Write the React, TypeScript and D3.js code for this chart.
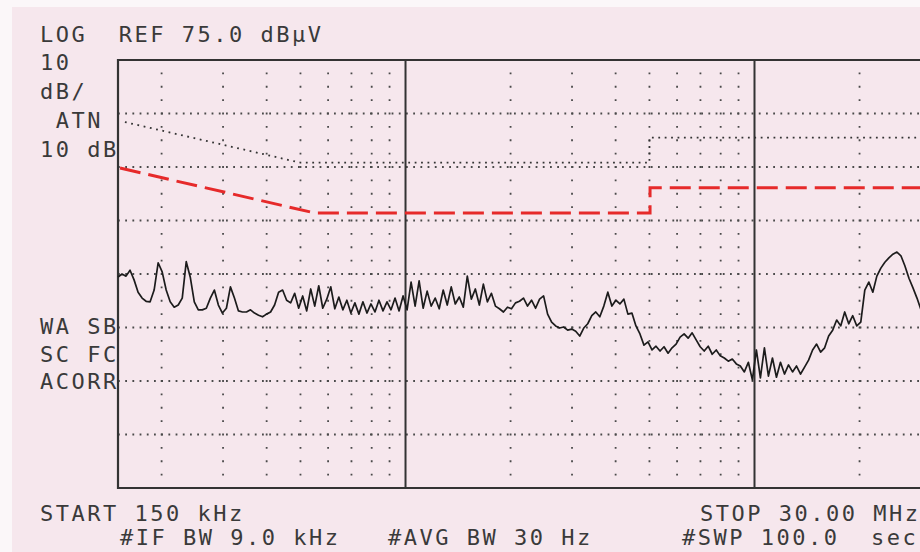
import React from 'react'
import * as d3 from 'd3'

const W = 920
const H = 552

// analyzer settings
const START_MHZ = 0.15
const STOP_MHZ = 30
const REF_DBUV = 75
const DB_PER_DIV = 10
const DIVS = 8

// measured trace in dBuV, one value per sweep point (log spaced, start..stop)
const traceLevels = [
  34.4, 35.0, 34.6, 35.7, 33.9, 31.6, 30.5, 29.9, 29.8, 32.0,
  37.1, 35.4, 32.0, 29.8, 28.8, 29.2, 30.5, 37.3, 34.4, 29.8,
  28.3, 28.3, 28.6, 30.5, 32.0, 29.2, 27.7, 28.6, 32.6, 30.5,
  28.1, 27.9, 27.9, 28.3, 27.7, 27.3, 27.0, 27.5, 27.9, 29.2,
  31.6, 32.0, 30.1, 29.6, 31.4, 28.6, 30.9, 28.1, 32.2, 29.0,
  32.8, 28.6, 30.3, 32.6, 28.5, 30.7, 28.3, 30.1, 27.7, 29.6,
  27.5, 29.8, 27.7, 29.4, 27.9, 30.1, 28.1, 29.8, 28.3, 30.5,
  28.1, 30.9, 28.3, 33.5, 29.0, 33.7, 28.6, 31.8, 29.0, 30.5,
  28.5, 32.0, 29.2, 32.6, 29.4, 30.7, 28.8, 34.6, 30.3, 32.2,
  29.2, 33.1, 29.8, 31.4, 29.0, 28.5, 27.9, 28.8, 28.5, 29.6,
  29.9, 30.5, 29.0, 30.1, 28.6, 30.3, 30.9, 27.5, 26.0, 25.3,
  24.9, 25.1, 24.5, 24.7, 24.3, 23.4, 24.9, 25.7, 27.2, 27.9,
  27.0, 29.0, 31.6, 29.0, 30.1, 29.4, 30.3, 27.5, 27.7, 25.3,
  23.8, 21.7, 22.3, 20.8, 21.5, 20.6, 21.4, 20.2, 21.2, 21.9,
  23.2, 23.8, 23.0, 24.0, 22.7, 21.4, 20.6, 21.5, 20.0, 20.8,
  19.7, 19.3, 18.7, 19.1, 18.2, 17.8, 16.7, 18.5, 15.2, 20.8,
  15.6, 21.2, 15.9, 19.3, 15.7, 18.5, 16.3, 18.0, 16.7, 17.8,
  16.3, 17.6, 18.9, 20.8, 21.9, 20.4, 21.2, 23.4, 24.5, 26.4,
  25.3, 27.9, 25.7, 27.2, 25.3, 26.0, 32.0, 33.5, 31.6, 34.6,
  36.1, 37.2, 38.0, 38.7, 39.1, 38.4, 36.5, 34.2, 32.4, 30.5,
  28.3,
]

// limit drawn by the analyzer (dotted), [MHz, dBuV]
const qpLimit: [number, number][] = [
  [0.157, 63.4], [0.5, 55.8], [5.0, 55.8], [5.0, 60.5], [30, 60.5],
]

// limit added by hand (red dashes), [MHz, dBuV]
const avgLimit: [number, number][] = [
  [0.152, 54.8], [0.55, 46.4], [5.02, 46.4], [5.02, 51.1], [30, 51.1],
]

const decadeFreqs = [1, 10]
const minorFreqs = [0.2, 0.3, 0.4, 0.5, 0.6, 0.7, 0.8, 0.9, 2, 3, 4, 5, 6, 7, 8, 9, 20]

const headerText = 'LOG  REF 75.0 dB\u00b5V'
const scaleLabels = ['10', 'dB/', ' ATN', '10 dB']
const modeLabels = ['WA SB', 'SC FC', 'ACORR']
const startText = 'START 150 kHz'
const stopText = 'STOP 30.00 MHz'
const footerTexts = ['#IF BW 9.0 kHz', '#AVG BW 30 Hz', '#SWP 100.0  sec']

const ink = '#333'
const paper = '#f6e7ed'
const red = '#e62a2a'

export default function App() {
  const left = 118
  const right = 921
  const top = 60
  const bottom = 488

  const x = d3.scaleLog().domain([START_MHZ, STOP_MHZ]).range([left, right])
  const y = d3
    .scaleLinear()
    .domain([REF_DBUV - DIVS * DB_PER_DIV, REF_DBUV])
    .range([bottom, top])

  const levelLines = d3.range(1, DIVS).map((i) => REF_DBUV - i * DB_PER_DIV)
  const step = (bottom - top) / DIVS / 4

  // sweep points are evenly spaced on the log axis
  const n = traceLevels.length
  const sweep = traceLevels.map((v, i): [number, number] => [
    START_MHZ * Math.pow(STOP_MHZ / START_MHZ, i / (n - 1)),
    v,
  ])

  const line = d3
    .line<[number, number]>()
    .x((d) => x(d[0]))
    .y((d) => y(d[1]))

  const textStyle = {
    fontFamily: "'DejaVu Sans Mono', 'Liberation Mono', monospace",
    fontSize: 22,
    letterSpacing: 2.5,
    fill: '#3a3a3a',
    whiteSpace: 'pre' as const,
  }

  return (
    <svg
      width={W}
      height={H}
      style={{ position: 'absolute', left: 0, top: 0, display: 'block' }}
    >
      <rect width={W} height={H} fill="#fbf7f9" />
      <rect x={12} y={7} width={W - 12} height={H - 7} fill={paper} />

      {/* dotted grid rows */}
      {levelLines.map((v) => (
        <line
          key={'h' + v}
          x1={left}
          x2={right}
          y1={y(v)}
          y2={y(v)}
          stroke="#4a4a4a"
          strokeWidth={1.8}
          strokeDasharray="1.8 5.4"
        />
      ))}

      {/* dotted minor frequency columns */}
      {minorFreqs.map((f) => (
        <line
          key={'v' + f}
          x1={x(f)}
          x2={x(f)}
          y1={top}
          y2={bottom}
          stroke="#4a4a4a"
          strokeWidth={1.8}
          strokeDasharray={`1.8 ${step - 1.8}`}
          strokeDashoffset={-step + 0.9}
        />
      ))}

      {/* decade lines */}
      {decadeFreqs.map((f) => (
        <line
          key={'d' + f}
          x1={x(f)}
          x2={x(f)}
          y1={top}
          y2={bottom}
          stroke={ink}
          strokeWidth={2}
        />
      ))}

      {/* frame */}
      <path
        d={`M${right},${top}H${left}V${bottom}H${right}`}
        fill="none"
        stroke={ink}
        strokeWidth={2.2}
      />

      {/* analyzer limit line */}
      <path
        d={line(qpLimit) ?? ''}
        fill="none"
        stroke="#333"
        strokeWidth={1.8}
        strokeDasharray="1.8 4.6"
      />

      {/* hand drawn limit */}
      <path
        d={line(avgLimit) ?? ''}
        fill="none"
        stroke={red}
        strokeWidth={3}
        strokeDasharray="21 8"
      />

      {/* measured trace */}
      <path
        d={line(sweep) ?? ''}
        fill="none"
        stroke="#1c1c1c"
        strokeWidth={1.7}
        strokeLinejoin="round"
      />

      {/* annotations */}
      <text x={40} y={42} style={textStyle}>
        {headerText}
      </text>
      {scaleLabels.map((t, i) => (
        <text key={t} x={40} y={70 + i * 29} style={textStyle}>
          {t}
        </text>
      ))}
      {modeLabels.map((t, i) => (
        <text key={t} x={40} y={334 + i * 27.5} style={textStyle}>
          {t}
        </text>
      ))}
      <text x={40} y={521} style={textStyle}>
        {startText}
      </text>
      <text x={700} y={521} style={textStyle}>
        {stopText}
      </text>
      {footerTexts.map((t, i) => (
        <text key={t} x={[120, 388, 682][i]} y={545} style={textStyle}>
          {t}
        </text>
      ))}
    </svg>
  )
}
